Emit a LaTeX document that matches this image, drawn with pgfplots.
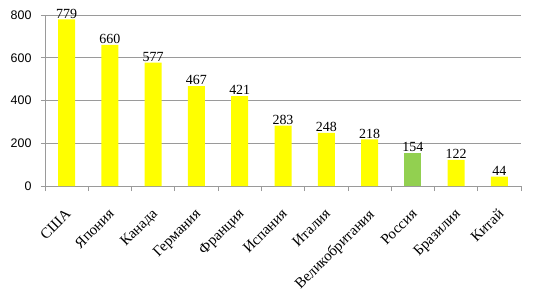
\documentclass[border=0pt]{standalone}
\usepackage{fontspec}
\setmainfont{Liberation Serif}
\newfontfamily\arialfont{Liberation Sans}
\usepackage{pgfplots}
\pgfplotsset{compat=1.18}
\definecolor{baryellow}{HTML}{FFFF00}
\definecolor{bargreen}{HTML}{92D050}
\definecolor{gridgray}{HTML}{9A9A9A}
\begin{document}
\begin{tikzpicture}[x=1bp,y=1bp]
\path[use as bounding box] (-45bp,-113bp) rectangle (491bp,186bp);
\begin{axis}[
  at={(0,0)}, anchor=south west,
  scale only axis,
  width=476bp, height=171bp,
  xmin=-0.5, xmax=10.5,
  ymin=0, ymax=800,
  ytick={0,200,400,600,800},
  xtick={0,1,2,3,4,5,6,7,8,9,10},
  xticklabels={США,Япония,Канада,Германия,Франция,Испания,Италия,Великобритания,Россия,Бразилия,Китай},
  minor xtick={-0.5,0.5,1.5,2.5,3.5,4.5,5.5,6.5,7.5,8.5,9.5,10.5},
  axis x line*=bottom, axis y line*=left,
  axis line style={gridgray, line width=0.8pt, -},
  major x tick style={draw=none},
  minor x tick style={gridgray, line width=0.8pt},
  minor tick length=5bp,
  major tick length=4bp,
  y tick style={gridgray, line width=0.8pt},
  tick align=outside,
  ymajorgrids, major grid style={gridgray, line width=0.8pt},
  xticklabel style={font=\fontsize{15}{15}\selectfont, rotate=45, anchor=north east, inner sep=0pt, xshift=-14bp, yshift=-11bp},
  yticklabel style={font=\arialfont\fontsize{12.5}{12.5}\selectfont, xshift=-6bp},
  /pgf/number format/assume math mode=true,
  ybar, bar width=17bp,
  nodes near coords,
  nodes near coords style={font=\fontsize{14}{14}\selectfont, text=black, inner sep=1pt},
  clip=false,
]
\addplot[fill=baryellow, draw=none, bar shift=0pt] coordinates {(0,779) (1,660) (2,577) (3,467) (4,421) (5,283) (6,248) (7,218) (9,122) (10,44)};
\addplot[fill=bargreen, draw=none, bar shift=0pt] coordinates {(8,154)};
\end{axis}
\end{tikzpicture}
\end{document}
